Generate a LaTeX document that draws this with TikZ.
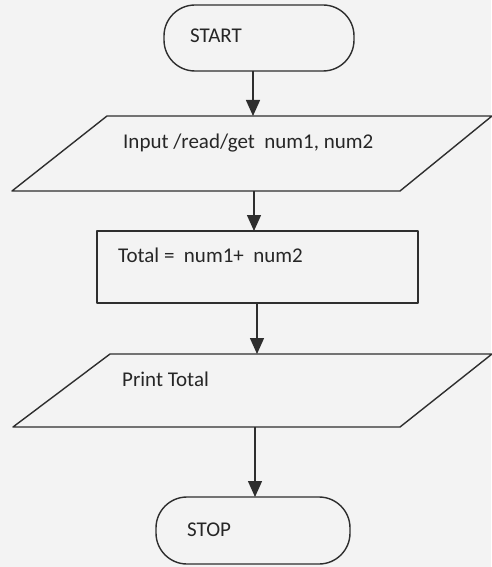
\documentclass[tikz,border=0pt]{standalone}
\usepackage{fontspec}
\setmainfont{Carlito}
\usetikzlibrary{arrows.meta}
\definecolor{paper}{HTML}{F3F3F3}
\definecolor{linec}{HTML}{2E2E2E}
\definecolor{textc}{HTML}{262626}
\begin{document}
\begin{tikzpicture}[x=1pt,y=-1pt,
  shapeline/.style={draw=linec, line width=1.4pt, line join=round},
  term/.style={shapeline, rounded corners=31pt},
  flowarrow/.style={draw=linec, line width=1.4pt, -{Triangle[width=14pt,length=16pt]}},
  lbl/.style={anchor=base west, inner sep=0pt, font=\fontsize{21}{25}\selectfont, text=textc}]
\fill[paper] (0,0) rectangle (491,567);
\useasboundingbox (0,0) rectangle (491,567);

% START terminal
\draw[term] (164,5) rectangle (354,71);
\node[lbl] (tstart) at (190,43) {START};

% Input parallelogram
\draw[shapeline] (107,116) -- (492,116) -- (400,191) -- (12,191) -- cycle;
\node[lbl] (tinput) at (123,148) {Input /read/get\ \ num1, num2};

% Process box
\draw[shapeline] (97,231) rectangle (418,303);
\node[lbl] (ttotal) at (118,262) {Total =\ \ num1+\ \ num2};

% Output parallelogram
\draw[shapeline] (110,354) -- (492,354) -- (400,427) -- (13,427) -- cycle;
\node[lbl] (tprint) at (122,386) {Print Total};

% STOP terminal
\draw[term] (156,497) rectangle (350,564);
\node[lbl] (tstop) at (187,536) {STOP};

% connector end points
\coordinate (a1s) at (253,71);  \coordinate (a1e) at (253,116);
\coordinate (a2s) at (254,191); \coordinate (a2e) at (254,231);
\coordinate (a3s) at (257,303); \coordinate (a3e) at (257,354);
\coordinate (a4s) at (255,427); \coordinate (a4e) at (255,497);

\draw[flowarrow] (a1s) -- (a1e);
\draw[flowarrow] (a2s) -- (a2e);
\draw[flowarrow] (a3s) -- (a3e);
\draw[flowarrow] (a4s) -- (a4e);
\end{tikzpicture}
\end{document}
